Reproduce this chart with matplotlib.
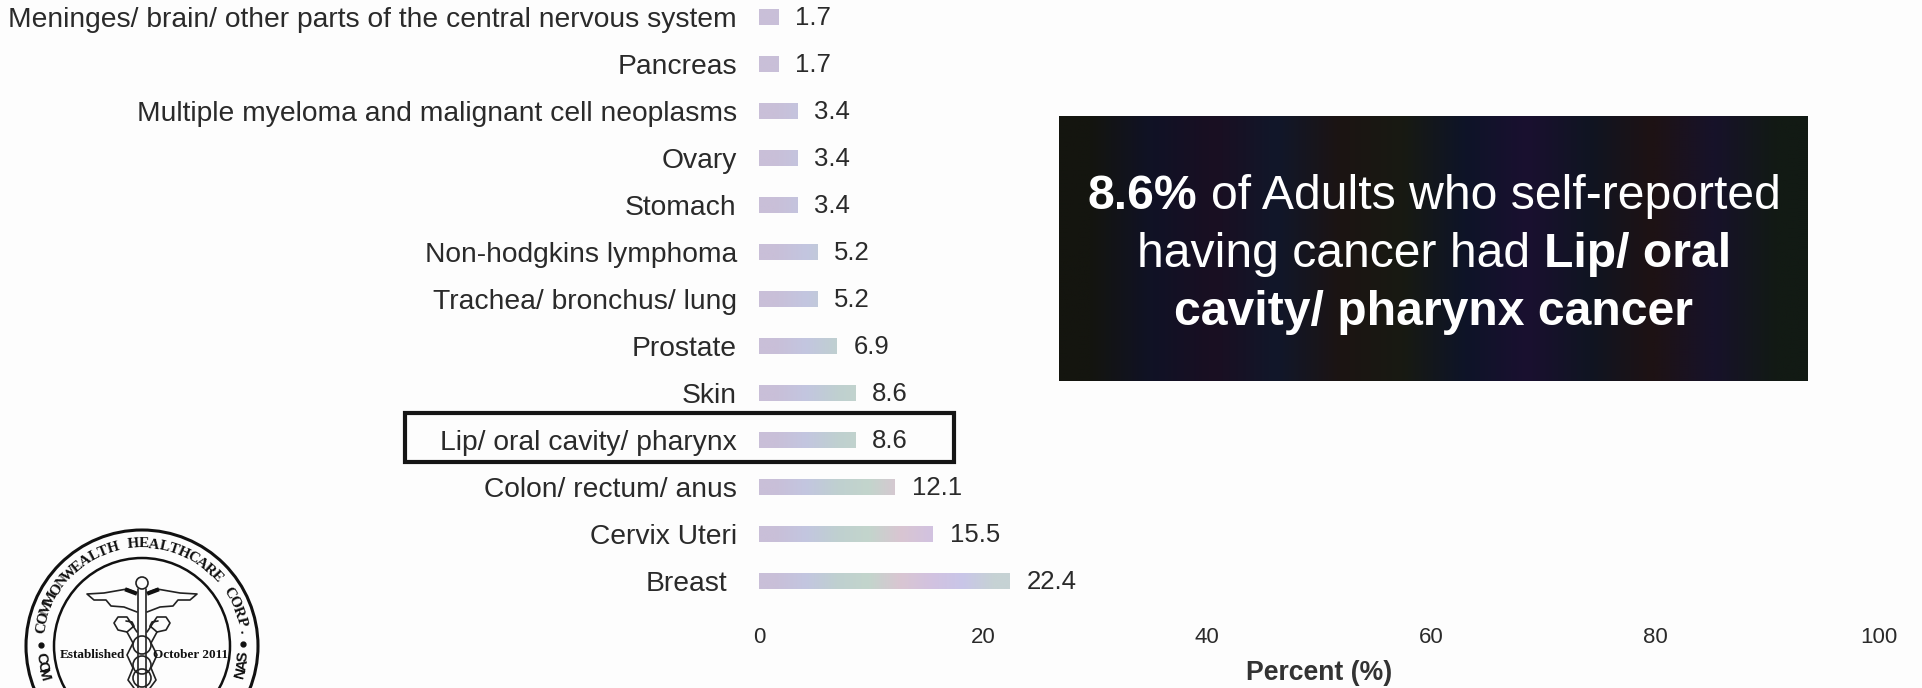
import numpy as np
import matplotlib
matplotlib.use('Agg')
import matplotlib.pyplot as plt
from matplotlib.colors import to_rgb
from matplotlib.patches import Circle, Rectangle

plt.rcParams['font.family'] = ['Liberation Sans', 'DejaVu Sans']

# Data, bottom to top
cancers = ['Breast', 'Cervix Uteri', 'Colon/ rectum/ anus', 'Lip/ oral cavity/ pharynx', 'Skin',
           'Prostate', 'Trachea/ bronchus/ lung', 'Non-hodgkins lymphoma', 'Stomach', 'Ovary',
           'Multiple myeloma and malignant cell neoplasms', 'Pancreas',
           'Meninges/ brain/ other parts of the central nervous system']
percents = [22.4, 15.5, 12.1, 8.6, 8.6, 6.9, 5.2, 5.2, 3.4, 3.4, 3.4, 1.7, 1.7]
x_ticks = [0, 20, 40, 60, 80, 100]

# Scanner colour fringes
bar_bands = ['#c9bfd8', '#c3c6e0', '#bfd0d0', '#c3d5cc', '#d9c6d2', '#d2c2e0', '#c9c6e8', '#c6d2d4']
box_bands = ['#14150f', '#101226', '#1a0f22', '#11172a', '#1c1413', '#181a12', '#0e1428', '#1a1030',
             '#101522', '#1e1214', '#17122a', '#121a14']

W, H = 1922, 688
BG = '#fdfdfd'
TXT = '#2a2a2a'


def bands(names):
    return np.array([[to_rgb(c) for c in names]])


fig = plt.figure(figsize=(W / 100, H / 100), dpi=100, facecolor=BG)

# Overlay in pixel coordinates for box, frame and logo
ov = fig.add_axes([0, 0, 1, 1])
ov.axis('off')

# Chart
ax = fig.add_axes([759 / W, (H - 620) / H, 1120 / W, 620 / H])
ax.patch.set_alpha(0)
y = np.arange(len(cancers))
bars = ax.barh(y, percents, height=0.34, color='#c6c6dc', zorder=2)
for b, v, yy in zip(bars, percents, y):
    im = ax.imshow(bands(bar_bands), extent=(0, 22.4, yy - 0.17, yy + 0.17), aspect='auto',
                   interpolation='bilinear', zorder=3)
    im.set_clip_path(b)
    ax.annotate(f'{v}', (v, yy), xytext=(17, -1), textcoords='offset pixels', va='center',
                fontsize=18.5, color=TXT)
ax.set_xlim(0, 100)
ax.set_ylim(-0.83, 12.36)
ax.set_xticks(x_ticks)
ax.set_yticks(y, cancers)
ax.tick_params(axis='both', length=0, colors=TXT)
ax.tick_params(axis='x', labelsize=16, pad=4.7)
ax.tick_params(axis='y', labelsize=20.3, pad=16)
ax.yaxis.get_major_ticks()[0].set_pad(22.5)
for s in ax.spines.values():
    s.set_visible(False)

# Dark call-out box
ov.imshow(bands(box_bands), extent=(1059, 1808, 381, 116), aspect='auto', interpolation='bilinear', zorder=1)
ov.set_xlim(0, W)
ov.set_ylim(H, 0)

ov.text(1319, 673, 'Percent (%)', ha='center', va='center', fontsize=19.2, fontweight='bold', color='#333333')

# Highlight frame
ov.add_patch(Rectangle((405, 413), 549, 49, fill=False, ec='#151515', lw=3))

fig.canvas.draw()
rend = fig.canvas.get_renderer()


def mixed_line(parts, center, base, size=34.7):
    """Centre a line made of (text, weight) pieces around center."""
    items = [ov.text(0, base, s, fontsize=size, fontweight=w, color='white', va='baseline', zorder=3)
             for s, w in parts]
    space = size * 100 / 72 * 0.278
    widths = [t.get_window_extent(rend).width for t in items]
    x = center - (sum(widths) + space * (len(items) - 1)) / 2
    for t, wd in zip(items, widths):
        t.set_x(x)
        x += wd + space


mixed_line([('8.6%', 'bold'), ('of Adults who self-reported', 'normal')], 1434, 209)
mixed_line([('having cancer had', 'normal'), ('Lip/ oral', 'bold')], 1434, 267)
mixed_line([('cavity/ pharynx cancer', 'bold')], 1434, 325)

# Logo
cx, cy = 142, 646
for r, lw in [(116, 2.2), (88, 1.8)]:
    ov.add_patch(Circle((cx, cy), r, fill=False, ec='#111111', lw=lw))


def arc_text(s, start, stop, radius, top=True, size=11, fam='Liberation Serif'):
    for ch, a in zip(s, np.linspace(start, stop, len(s))):
        px = cx + radius * np.cos(np.radians(a))
        py = cy - radius * np.sin(np.radians(a))
        # the lower part of the seal runs off the page
        if py > H - 8:
            continue
        rot = a - 90 if top else a + 90
        ov.text(px, py, ch, rotation=rot, rotation_mode='anchor', ha='center', va='center',
                fontsize=size, fontweight='bold', family=fam, color='#111111')


arc_text('COMMONWEALTH HEALTHCARE CORP.', 170, 8, 102)
arc_text('COMMONWEALTH OF THE NORTHERN MARIANAS', 187, 354, 102, top=False, fam='Liberation Sans')
ov.plot([41, 243], [645, 644], ls='none', marker='o', ms=3.5, color='#111111')

# Caduceus
ink = dict(color='#222222', lw=1.2, solid_capstyle='round')
ov.add_patch(Circle((cx, 583), 6, fill=False, ec='#222222', lw=1.2))
ov.plot([cx - 4, cx - 4], [589, 700], **ink)
ov.plot([cx + 4, cx + 4], [589, 700], **ink)
wing_x = np.array([7, 15, 38, 55, 48, 36, 31, 18, 5])
wing_y = np.array([592, 589, 593, 594, 600, 600, 606, 607, 612])
for sgn in (-1, 1):
    ov.plot(cx + sgn * wing_x, wing_y, **ink)
    ov.plot(cx + sgn * np.array([7, 15]), [593, 590], color='#111111', lw=3)
    ov.plot(cx + sgn * np.array([5, 15, 24, 28, 24, 15, 8, 10, 16]),
            np.array([632, 617, 617, 623, 630, 632, 626, 622, 621]), **ink)
    ov.plot(cx + sgn * np.array([15, 9, 15, 9, 14, 8]),
            np.array([632, 643, 655, 668, 680, 688]), **ink)
for yy in (645, 665, 678):
    ov.add_patch(Circle((cx, yy), 9, fill=False, ec='#222222', lw=1.2))
ov.text(92, 655, 'Established', ha='center', va='center', fontsize=9.5, fontweight='bold',
        family='Liberation Serif', color='#111111')
ov.text(191, 655, 'October 2011', ha='center', va='center', fontsize=9.5, fontweight='bold',
        family='Liberation Serif', color='#111111')

fig.savefig('out.png', dpi=100, facecolor=BG)
